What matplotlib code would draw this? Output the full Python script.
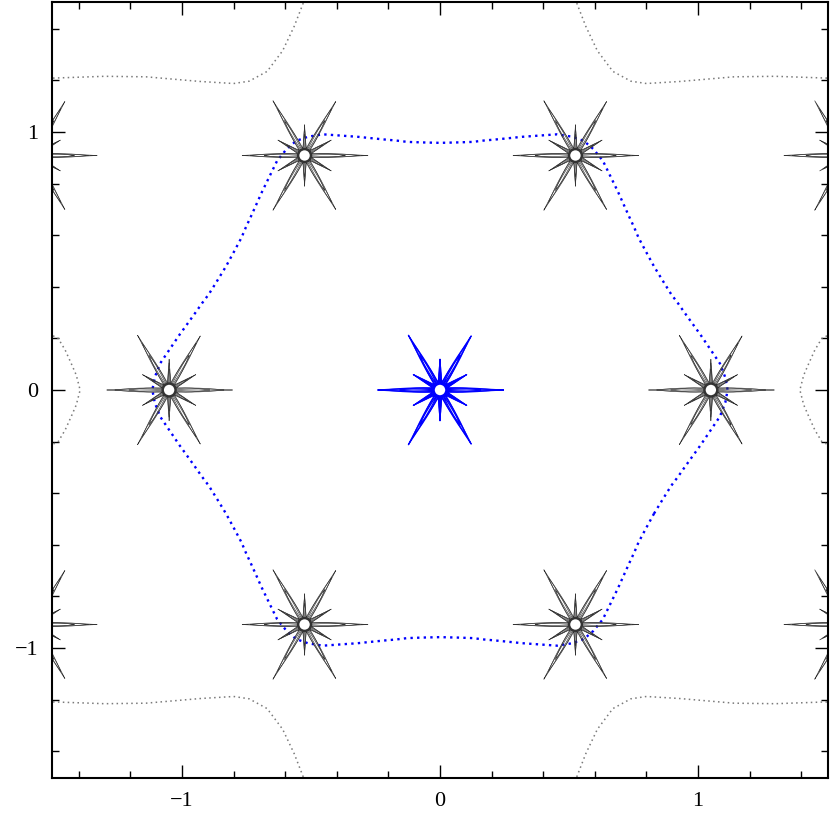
import numpy as np
import matplotlib.pyplot as plt
from matplotlib.patches import Circle
from matplotlib.ticker import MultipleLocator

# lattice sites (x, y)
blue_site = (0.0, 0.0)
black_x = [1.05, -1.05, 0.525, -0.525, 0.525, -0.525, 1.575, -1.575, 1.575, -1.575]
black_y = [0.0, 0.0, 0.909, 0.909, -0.909, -0.909, 0.909, 0.909, -0.909, -0.909]

# star spikes: direction (deg) and length beyond the hole
spike_deg = [0, 30, 60, 90, 120, 150, 180, 210, 240, 270, 300, 330]
spike_len = [0.22, 0.095, 0.22, 0.095, 0.22, 0.095, 0.22, 0.095, 0.22, 0.095, 0.22, 0.095]
hole_r = 0.025

# blue dotted contour, one half-sector: offset from vertex (deg) and radius
hex_off = [0, 2.5, 5.4, 8.3, 12, 15, 17.6, 20, 22.5, 26, 30]
hex_r = [1.115, 1.107, 1.090, 1.062, 1.032, 1.010, 0.994, 0.982, 0.970, 0.962, 0.958]

# gray dotted curves: top-left corner piece and left side piece
corner_x = [-1.5, -1.3, -1.14, -0.93, -0.80, -0.74, -0.67, -0.61, -0.565, -0.53]
corner_y = [1.209, 1.216, 1.214, 1.196, 1.188, 1.197, 1.235, 1.315, 1.41, 1.5]
side_x = [-1.5, -1.48, -1.453, -1.43, -1.41, -1.395]
side_y = [0.21, 0.20, 0.155, 0.104, 0.058, 0.0]


def star(ax, cx, cy, color, lw):
    th = np.linspace(0, 2 * np.pi, 4000)
    ang = np.radians(spike_deg)
    # nested outlines, narrow-and-long to wide-and-short
    layers = [(0.07, 1.3, 1.0), (0.24, 2.4, 0.85), (0.50, 4.0, 0.6)]
    for w, p, s in layers:
        r = np.full_like(th, hole_r)
        for a, L in zip(ang, spike_len):
            d = np.abs((th - a + np.pi) % (2 * np.pi) - np.pi) / w
            r = np.maximum(r, hole_r + s * L * np.clip(1 - d, 0, None) ** p)
        ax.plot(cx + r * np.cos(th), cy + r * np.sin(th), color=color, lw=lw)
    ax.add_patch(Circle((cx, cy), hole_r, fc='white', ec=color, lw=1.8, zorder=5))


fig = plt.figure(figsize=(8.3, 8.3), dpi=100)
ax = fig.add_axes([52 / 830, 52 / 830, 776 / 830, 776 / 830])

# blue contour from the half sector, by symmetry
off = np.array(hex_off)
rr = np.array(hex_r)
half_off = np.concatenate([-off[::-1], off[1:]])
half_r = np.concatenate([rr[::-1], rr[1:]])
px, py = [], []
for k in range(6):
    a = np.radians(60 * k + half_off)
    px.extend(half_r * np.cos(a))
    py.extend(half_r * np.sin(a))
px.append(px[0])
py.append(py[0])
ax.plot(px, py, color='blue', lw=1.7, ls=(0, (1, 1.8)))

# gray curves, mirrored
cx_, cy_ = np.array(corner_x), np.array(corner_y)
sx_, sy_ = np.array(side_x), np.array(side_y)
for mx in (1, -1):
    for my in (1, -1):
        ax.plot(mx * cx_, my * cy_, color='#7a7a7a', lw=1.1, ls=(0, (1, 2.2)))
    ax.plot(mx * np.concatenate([sx_, sx_[::-1][1:]]),
            np.concatenate([sy_, -sy_[::-1][1:]]),
            color='#7a7a7a', lw=1.1, ls=(0, (1, 2.2)))

for x, y in zip(black_x, black_y):
    star(ax, x, y, '#333333', 0.45)
star(ax, blue_site[0], blue_site[1], 'blue', 0.9)

ax.set_xlim(-1.504, 1.504)
ax.set_ylim(-1.504, 1.504)
ax.xaxis.set_major_locator(MultipleLocator(1))
ax.yaxis.set_major_locator(MultipleLocator(1))
ax.xaxis.set_minor_locator(MultipleLocator(0.2))
ax.yaxis.set_minor_locator(MultipleLocator(0.2))
ax.tick_params(which='both', direction='in', top=True, right=True, width=1.0)
ax.tick_params(which='major', length=9.5, pad=10, labelsize=16)
ax.tick_params(which='minor', length=5)
for lab in ax.get_xticklabels() + ax.get_yticklabels():
    lab.set_family('Liberation Serif')
for sp in ax.spines.values():
    sp.set_linewidth(1.5)

fig.savefig('out.png', dpi=100)
